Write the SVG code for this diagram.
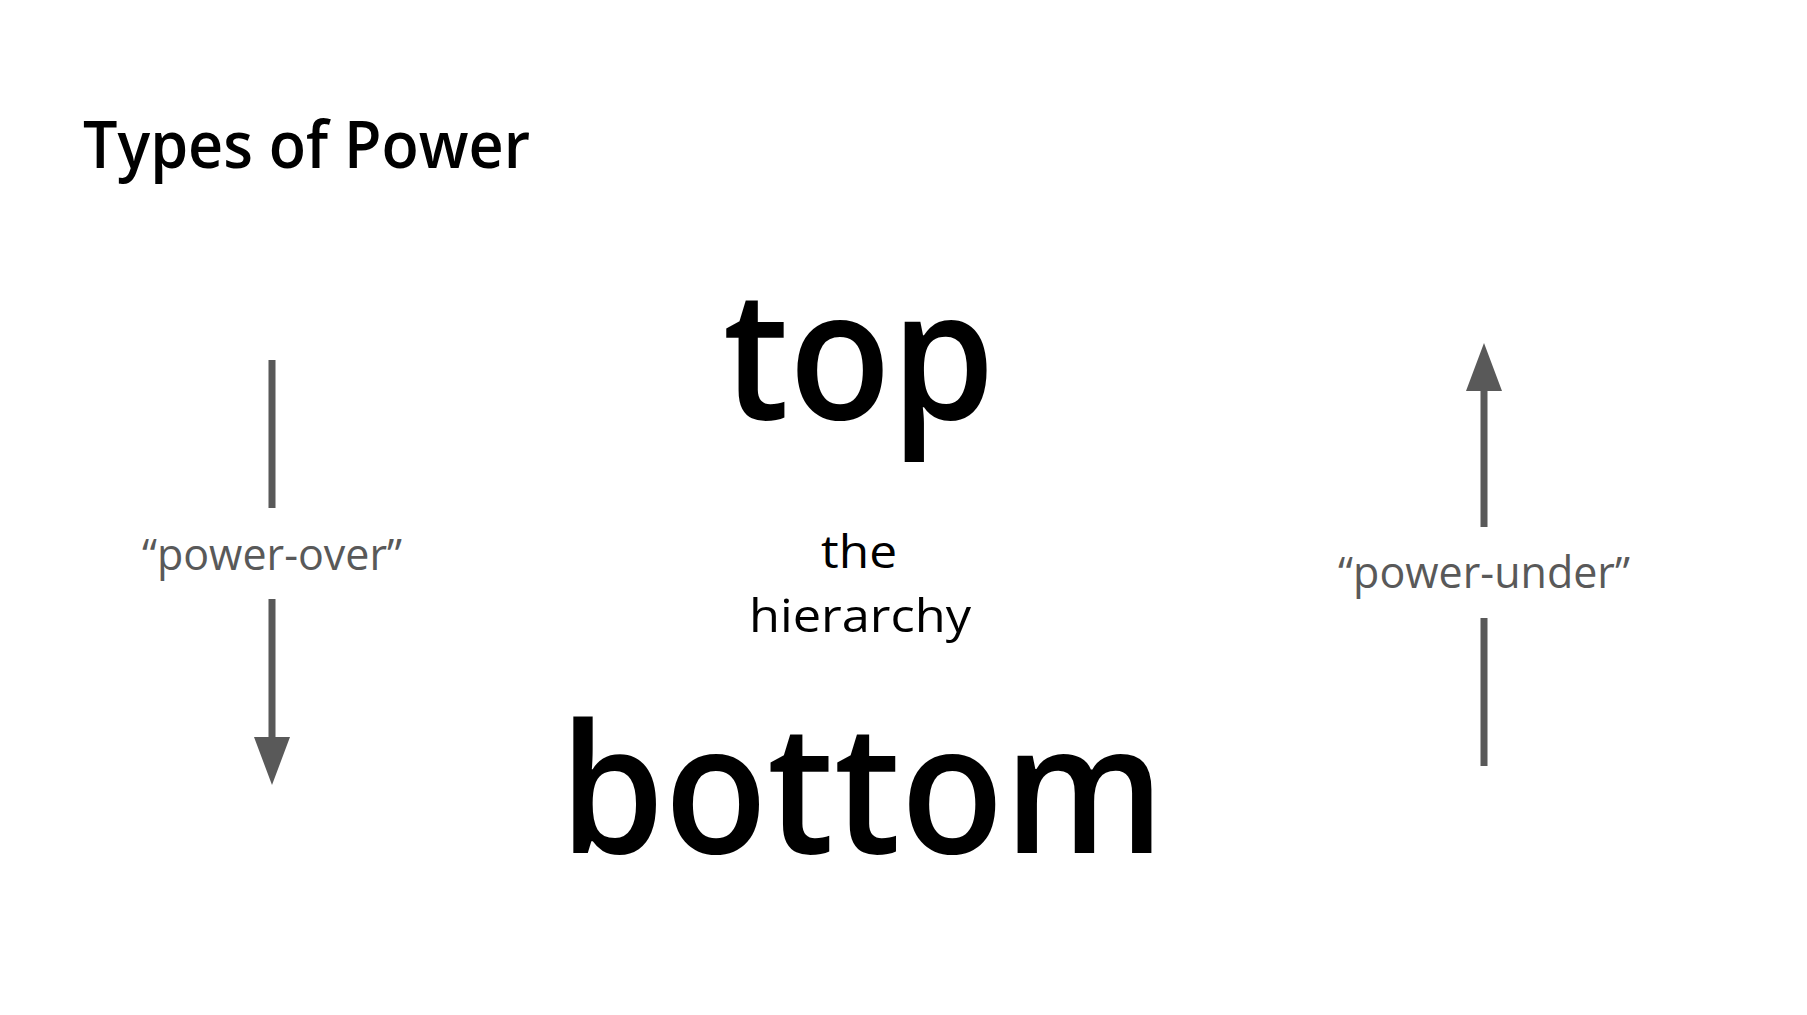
<svg xmlns="http://www.w3.org/2000/svg" width="1807" height="1015" viewBox="0 0 1807 1015">
  <style>
    text { font-family: "Comic Sans MS", "Open Sans", "Liberation Sans", sans-serif; font-weight: 600; }
    .dark { fill: #000000; }
    .label { fill: #595959; font-size: 43px; text-anchor: middle; font-weight: 500; }
    .big { font-size: 180px; text-anchor: middle; fill: #000000; }
    .mid { font-size: 46px; text-anchor: middle; fill: #000000; font-weight: 400; }
    .conn { stroke: #595959; stroke-width: 7; fill: none; stroke-linecap: butt; }
  </style>
  <defs>
    <marker id="head" markerUnits="userSpaceOnUse" markerWidth="50" markerHeight="38" viewBox="0 -19 50 38" refX="0" refY="0" orient="auto">
      <path d="M0,-18 L48,0 L0,18 Z" fill="#595959"/>
    </marker>
  </defs>
  <rect x="0" y="0" width="1807" height="1015" fill="#ffffff"/>

  <g id="title">
    <text class="dark" x="83" y="168" font-size="66" textLength="447" lengthAdjust="spacingAndGlyphs">Types of Power</text>
  </g>

  <g id="node-top">
    <text class="big" x="859" y="419" textLength="272" lengthAdjust="spacingAndGlyphs">top</text>
  </g>

  <g id="node-hierarchy">
    <text class="mid" x="859" y="568"><tspan x="859" y="568" textLength="76" lengthAdjust="spacingAndGlyphs">the</tspan><tspan x="860" y="632" textLength="222" lengthAdjust="spacingAndGlyphs">hierarchy</tspan></text>
  </g>

  <g id="node-bottom">
    <text class="big" x="862" y="853" textLength="605" lengthAdjust="spacingAndGlyphs">bottom</text>
  </g>

  <g id="connectors">
    <g id="power-over-arrow">
      <line class="conn" x1="272" y1="360" x2="272" y2="508"/>
      <line class="conn" x1="272" y1="599" x2="272" y2="737" marker-end="url(#head)"/>
    </g>
    <g id="power-under-arrow">
      <line class="conn" x1="1484" y1="766" x2="1484" y2="618"/>
      <line class="conn" x1="1484" y1="527" x2="1484" y2="391" marker-end="url(#head)"/>
    </g>
  </g>

  <g id="label-power-over">
    <text class="label" x="272" y="570">“power-over”</text>
  </g>
  <g id="label-power-under">
    <text class="label" x="1484" y="588">“power-under”</text>
  </g>
</svg>
